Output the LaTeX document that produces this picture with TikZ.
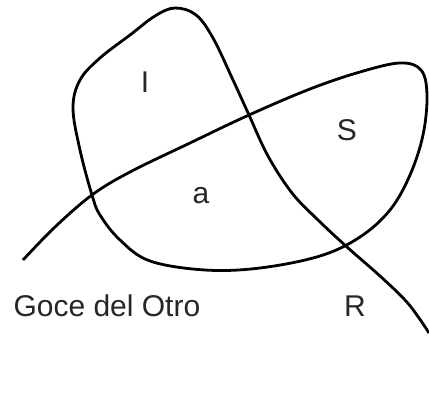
\documentclass[tikz,border=0pt]{standalone}
\usepackage{fontspec}
\setmainfont{Liberation Sans}
\usetikzlibrary{positioning}

\begin{document}
\begin{tikzpicture}[x=1pt, y=-1pt,
    every node/.style={font=\fontsize{30}{36}\selectfont, text=black!85},
    loopline/.style={line width=2.8pt, line join=round, line cap=butt}]

% --- frame ---
\useasboundingbox (0,0) rectangle (429,406);

% --- the one self-crossing curve ---
\draw[loopline] plot[smooth, tension=0.6] coordinates {
    (23,260) (55,227) (92,195) (130,172) (190,143) (249,115)
    (310,89) (360,72) (400,63) (421,70) (427,95) (423,135)
    (410,175) (390,210) (360,237) (320,256) (260,268) (205,270)
    (150,261) (120,240) (100,215) (92,195) (80,150) (73,108)
    (80,80) (100,58) (130,35) (155,16) (175,8) (196,15) (213,38)
    (233,80) (249,115) (268,156) (292,193) (318,220) (347,247)
    (380,276) (405,300) (419,318) (429,333)};

% --- region labels ---
\node (lblI) at (145,82) {I};
\node (lblS) at (347,130) {S};
\node (lblA) at (201,196) {a};
\node[anchor=west] (lblGoce) at (10,306) {Goce del Otro};
\node (lblR) at (355,306) {R};

\end{tikzpicture}
\end{document}
